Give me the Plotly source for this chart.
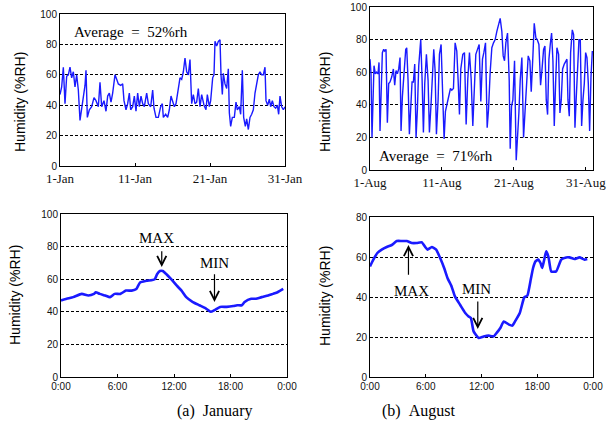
import plotly.graph_objects as go

# ---------------- DATA ----------------
# January hourly record: positions read along the month axis (pixels of the source chart) and %RH
jan_x_px = [180, 185, 190, 195, 200, 205, 210, 215, 220, 225, 230, 235, 240, 245, 250, 255, 258,
            262, 268, 275, 282, 288, 295, 300, 305, 312, 318, 323, 328, 333, 338, 345, 350, 355,
            362, 368, 372, 378, 383, 388, 392, 398, 403, 408, 413, 418, 423, 428, 433, 440, 445,
            452, 458, 462, 468, 475, 482, 487, 490, 497, 503, 508, 513, 518, 523, 528, 535, 540,
            545, 550, 555, 560, 565, 570, 575, 580, 585, 590, 595, 600, 605, 612, 618, 622, 628,
            632, 638, 642, 645, 650, 655, 660, 663, 667, 670, 675, 680, 685, 688, 692, 697, 703,
            708, 712, 718, 722, 727, 731, 736, 740, 745, 750, 755, 760, 765, 770, 775, 780, 785,
            790, 795, 798, 803, 808, 812, 817, 822, 827, 832, 836, 840, 845, 850, 855]
jan_rh = [47, 52, 65, 41, 59, 60, 65, 58, 62, 52, 60, 50, 30, 39, 46, 53, 63, 32, 37, 39, 45,
          43, 39, 55, 39, 43, 36, 46, 48, 42, 48, 60, 57, 54, 53, 54, 43, 37, 41, 48, 37, 39,
          46, 36, 48, 39, 46, 41, 39, 48, 41, 39, 50, 38, 32, 32, 39, 41, 32, 34, 32, 37, 46,
          42, 39, 41, 52, 58, 57, 62, 71, 62, 60, 70, 41, 47, 41, 42, 51, 39, 47, 40, 37, 47,
          39, 43, 58, 60, 82, 79, 82, 83, 60, 47, 61, 54, 51, 64, 35, 26, 32, 32, 42, 37, 39,
          34, 63, 32, 26, 31, 24, 32, 34, 37, 48, 54, 60, 62, 60, 60, 65, 43, 40, 44, 39, 43,
          39, 38, 40, 34, 46, 39, 37, 39]
jan_day = [1 + (p - 180) / 22.5 for p in jan_x_px]

# August hourly record
aug_x_px = [210, 213, 216, 220, 222, 226, 230, 234, 237, 240, 244, 247, 251, 254, 258, 262, 266,
            270, 275, 280, 284, 288, 292, 296, 300, 303, 307, 312, 317, 320, 324, 328, 332, 336,
            340, 344, 348, 352, 356, 362, 366, 370, 374, 379, 384, 388, 393, 397, 401, 405, 409,
            414, 418, 423, 427, 432, 436, 441, 446, 451, 455, 460, 465, 470, 474, 478, 482, 488,
            493, 498, 503, 508, 513, 518, 522, 527, 532, 537, 542, 547, 551, 556, 561, 565, 570,
            575, 580, 585, 590, 595, 600, 605, 609, 613, 617, 622, 627, 630, 634, 638, 643, 648,
            652, 656, 660, 665, 670, 674, 679, 684, 689, 693, 698, 702, 707, 711, 716, 721, 725,
            730, 734, 738, 742, 746, 750, 754, 758, 762, 766, 770, 775, 779, 783, 787, 792, 796,
            800, 803, 807, 811, 816, 820, 824, 828, 832, 836, 840, 844, 848, 852, 856, 860, 864,
            868, 872, 876]
aug_rh = [68, 59, 20, 43, 64, 59, 60, 59, 66, 24, 53, 72, 74, 73, 74, 29, 53, 54, 57, 62, 52, 61,
          59, 62, 69, 24, 45, 57, 74, 75, 55, 22, 39, 54, 54, 65, 20, 37, 64, 80, 56, 23, 53, 71,
          55, 23, 41, 61, 74, 61, 22, 43, 71, 77, 53, 19, 36, 41, 46, 50, 49, 50, 78, 73, 55, 34,
          62, 71, 72, 28, 56, 72, 56, 27, 47, 71, 74, 77, 42, 68, 72, 78, 26, 37, 60, 75, 78, 80,
          85, 89, 93, 85, 70, 67, 78, 84, 55, 13, 39, 43, 67, 6, 18, 35, 55, 69, 20, 35, 50, 70,
          67, 48, 70, 90, 81, 80, 77, 52, 61, 74, 76, 43, 34, 68, 77, 84, 67, 27, 53, 75, 71, 35,
          43, 62, 65, 67, 68, 43, 33, 72, 86, 83, 26, 45, 69, 80, 80, 27, 43, 53, 72, 69, 53, 24,
          57, 73]
aug_day = [1 + (p - 210) / 21.55 for p in aug_x_px]

# Average daily profiles (hour, %RH)
jan_hour = [0.0, 0.6, 1.3, 2.2, 2.9, 3.5, 3.7, 4.1, 4.7, 5.2, 5.7, 6.3, 6.9, 7.5, 8.0, 8.4, 9.1,
            9.96, 10.2, 10.5, 10.8, 11.2, 11.7, 12.3, 12.8, 13.3, 14.0, 14.7, 15.4, 15.9, 16.3,
            16.9, 17.6, 18.3, 18.7, 19.2, 19.5, 20.2, 20.7, 21.3, 22.0, 22.5, 23.0, 23.6]
jan_prof = [47, 48, 49, 51, 50, 51, 52, 51, 50, 49, 51, 51, 53, 53, 54, 58, 59, 60, 63, 65, 65,
            63, 60, 56, 53, 49, 46, 44, 42, 40, 41, 43, 43, 43.5, 44, 44, 46, 48, 48, 49, 50, 51,
            52, 54]
aug_hour = [0.0, 0.36, 0.79, 1.26, 1.8, 2.34, 2.88, 3.42, 3.96, 4.5, 5.04, 5.58, 5.94, 6.19,
            6.65, 7.12, 7.55, 7.98, 8.34, 8.78, 9.14, 9.71, 10.25, 10.61, 10.86, 11.15, 11.69,
            12.23, 12.77, 13.31, 13.67, 14.03, 14.39, 14.96, 15.32, 15.61, 16.12, 16.6, 16.94,
            17.3, 17.55, 17.81, 18.09, 18.35, 18.53, 18.71, 18.96, 19.21, 19.5, 20.04, 20.58,
            21.12, 21.47, 22.01, 22.55, 23.09, 23.38]
aug_prof = [55.3, 58.7, 62, 63.7, 65, 66, 68, 68, 68, 67, 67, 67.3, 65, 63.7, 65, 63.7, 59.5,
            54.5, 49.5, 45.3, 40.3, 36, 32, 30.3, 29.5, 22.8, 19.5, 20.3, 20.7, 20.3, 22.3, 24.5,
            27.8, 26.2, 25.7, 27.8, 32, 39.8, 40.7, 48.7, 54.5, 57.8, 58.7, 57, 54.5, 57.8, 62.8,
            60, 52.8, 52.8, 58.7, 59.8, 59.8, 59, 59.8, 58.7, 59, 59.8, 60]

jan_ticks = [1, 11, 21, 31]
jan_ticktext = ["1-Jan", "11-Jan", "21-Jan", "31-Jan"]
aug_ticks = [1, 11, 21, 31]
aug_ticktext = ["1-Aug", "11-Aug", "21-Aug", "31-Aug"]
hour_ticks = [0, 6, 12, 18, 24]
hour_ticktext = ["0:00", "6:00", "12:00", "18:00", "0:00"]

W, H = 615, 436
BLUE = "#1a1aff"

def px_x(a, b):
    return [a / W, b / W]

def px_y(top, bottom):
    return [(H - bottom) / H, (H - top) / H]

fig = go.Figure()
fig.add_trace(go.Scatter(x=jan_day, y=jan_rh, mode="lines", xaxis="x", yaxis="y",
                         line=dict(color=BLUE, width=1.4), showlegend=False))
fig.add_trace(go.Scatter(x=aug_day, y=aug_rh, mode="lines", xaxis="x2", yaxis="y2",
                         line=dict(color=BLUE, width=1.4), showlegend=False))
fig.add_trace(go.Scatter(x=jan_hour, y=jan_prof, mode="lines", xaxis="x3", yaxis="y3",
                         line=dict(color=BLUE, width=2.6, shape="spline", smoothing=0.5),
                         showlegend=False))
fig.add_trace(go.Scatter(x=aug_hour, y=aug_prof, mode="lines", xaxis="x4", yaxis="y4",
                         line=dict(color=BLUE, width=2.6, shape="spline", smoothing=0.4),
                         showlegend=False))

tickfont = dict(family="Liberation Sans", size=10, color="#111")
datefont = dict(family="Liberation Serif", size=13, color="#111")

def xax(domain, anchor, rng, tv, tt, font):
    return dict(domain=domain, anchor=anchor, range=rng, tickvals=tv, ticktext=tt,
                ticks="inside", ticklen=3, tickcolor="black", showgrid=False,
                showline=True, linecolor="black", linewidth=1, mirror=True,
                zeroline=False, tickfont=font, fixedrange=True, automargin=False)

def yax(domain, anchor, rng, dtick):
    return dict(domain=domain, anchor=anchor, range=rng, dtick=dtick, ticks="",
                showgrid=True, gridcolor="black", gridwidth=1, griddash="3px,2px",
                showline=True, linecolor="black", linewidth=1, mirror=True,
                zeroline=False, tickfont=tickfont, fixedrange=True, automargin=False)

fig.update_layout(
    width=W, height=H, margin=dict(l=0, r=0, t=0, b=0, pad=0, autoexpand=False),
    paper_bgcolor="white", plot_bgcolor="white",
    xaxis=xax(px_x(60, 285), "y", [1, 31], jan_ticks, jan_ticktext, datefont),
    yaxis=yax(px_y(14, 166), "x", [0, 100], 20),
    xaxis2=xax(px_x(370, 593), "y2", [1, 32], aug_ticks, aug_ticktext, datefont),
    yaxis2=yax(px_y(7, 170), "x2", [0, 100], 20),
    xaxis3=xax(px_x(61, 287), "y3", [0, 24], hour_ticks, hour_ticktext, tickfont),
    yaxis3=yax(px_y(214, 377), "x3", [0, 100], 20),
    xaxis4=xax(px_x(370, 593), "y4", [0, 24], hour_ticks, hour_ticktext, tickfont),
    yaxis4=yax(px_y(217, 377), "x4", [0, 80], 20),
)

serif = "Liberation Serif"
NB = "\u00a0"
ann = []
ann.append(dict(x=2.55, y=88.4, xref="x", yref="y", text=f"Average{NB}{NB}={NB}{NB}52%rh",
                showarrow=False, xanchor="left", yanchor="middle",
                font=dict(family=serif, size=15, color="black")))
ann.append(dict(x=2.0, y=8.6, xref="x2", yref="y2", text=f"Average{NB}{NB}={NB}{NB}71%rh",
                showarrow=False, xanchor="left", yanchor="middle",
                font=dict(family=serif, size=15, color="black")))

def arrow(xr, yr, x, ytip, ytail):
    return dict(x=x, y=ytip, ax=x, ay=ytail, xref=xr, yref=yr, axref=xr, ayref=yr,
                text="", showarrow=True, arrowhead=5, arrowsize=1.5, arrowwidth=1.2,
                arrowcolor="black")

def label(xr, yr, x, y, t):
    return dict(x=x, y=y, xref=xr, yref=yr, text=t, showarrow=False,
                font=dict(family=serif, size=15, color="black"))

ann += [label("x3", "y3", 10.1, 85, "MAX"), arrow("x3", "y3", 10.7, 67.5, 78),
        label("x3", "y3", 16.3, 70, "MIN"), arrow("x3", "y3", 16.3, 46, 64),
        label("x4", "y4", 4.5, 43.1, "MAX"), arrow("x4", "y4", 4.14, 66, 50.4),
        label("x4", "y4", 11.5, 43.8, "MIN"), arrow("x4", "y4", 11.6, 24, 38.5)]

def ytitle(xpx, ypx):
    return dict(x=xpx / W, y=(H - ypx) / H, xref="paper", yref="paper", text="Humidity (%RH)",
                textangle=-90, showarrow=False, xanchor="center", yanchor="middle",
                font=dict(family="Liberation Sans", size=14, color="black"))

ann += [ytitle(20, 102), ytitle(325, 102), ytitle(15, 295), ytitle(325, 296)]

ann.append(dict(x=175 / W, y=(H - 422) / H, xref="paper", yref="paper",
                text=f"(a){NB}{NB}January", showarrow=False,
                font=dict(family=serif, size=16, color="black")))
ann.append(dict(x=457 / W, y=(H - 422) / H, xref="paper", yref="paper",
                text=f"(b){NB}{NB}August", showarrow=False,
                font=dict(family=serif, size=16, color="black")))

fig.update_layout(annotations=ann)
fig.write_html("out.html")
